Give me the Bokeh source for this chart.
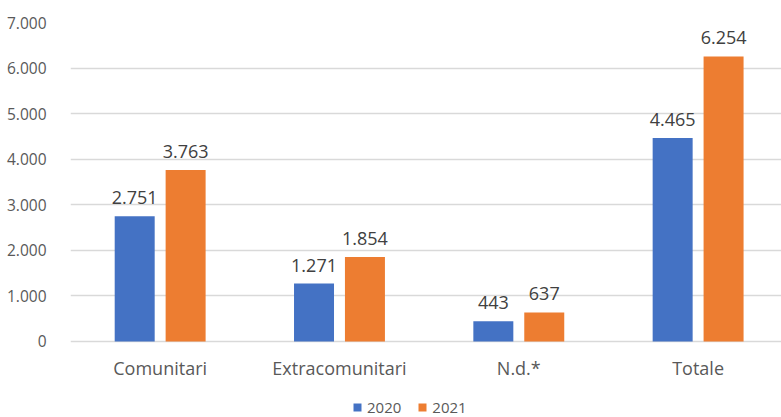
from bokeh.plotting import figure
from bokeh.models import ColumnDataSource, Range1d, FixedTicker, Legend, LegendItem, CustomJSTickFormatter
from bokeh.embed import file_html
from bokeh.resources import INLINE
from bokeh.core.properties import value

categories = ["Comunitari", "Extracomunitari", "N.d.*", "Totale"]
series_names = ["2020", "2021"]
values_2020 = [2751, 1271, 443, 4465]
values_2021 = [3763, 1854, 637, 6254]
y_ticks = [0, 1000, 2000, 3000, 4000, 5000, 6000, 7000]

colors = ["#4472C4", "#ED7D31"]
FONT = "Open Sans"
TXT = "#595959"

def fmt(v):
    return f"{v:,}".replace(",", ".")

W, H = 781, 417
# frame extends to the bottom of the canvas so that category labels and legend live inside it
p = figure(width=W, height=H, output_backend="svg", toolbar_location=None,
           x_range=Range1d(0, 3.965), y_range=Range1d(-1668, 7000),
           x_axis_location=None,
           min_border_left=70, min_border_right=0, min_border_top=22, min_border_bottom=0)
p.outline_line_color = None
p.background_fill_color = "white"
p.border_fill_color = "white"

centers = [i + 0.5 for i in range(len(categories))]
offsets = [-0.142, 0.142]

p.xgrid.grid_line_color = None
p.ygrid.grid_line_color = "#D9D9D9"
p.ygrid.grid_line_width = 1.3
p.ygrid.ticker = FixedTicker(ticks=y_ticks)

renderers = []
for vals, off, col in zip([values_2020, values_2021], offsets, colors):
    src = ColumnDataSource(dict(x=[c + off for c in centers], top=vals,
                                label=[fmt(v) for v in vals]))
    r = p.vbar(x="x", top="top", bottom=0, width=0.223, source=src, fill_color=col, line_color=None)
    renderers.append(r)
    p.text(x="x", y="top", text="label", source=src, text_align="center",
           text_baseline="bottom", y_offset=-12, text_font=value(FONT),
           text_font_size="18px", text_color="#404040")

# category labels
cat_src = ColumnDataSource(dict(x=centers, y=[0] * len(categories), label=categories))
p.text(x="x", y="y", text="label", source=cat_src, text_align="center",
       text_baseline="middle", y_offset=27, text_font=value(FONT),
       text_font_size="18px", text_color=TXT)

p.yaxis.ticker = FixedTicker(ticks=y_ticks)
p.yaxis.formatter = CustomJSTickFormatter(code="return tick.toLocaleString('de-DE');")
p.yaxis.axis_line_color = None
p.yaxis.major_tick_line_color = None
p.yaxis.minor_tick_line_color = None
p.yaxis.major_label_text_font = FONT
p.yaxis.major_label_text_font_size = "15.5px"
p.yaxis.major_label_text_color = TXT
p.yaxis.major_label_standoff = 18

legend = Legend(items=[LegendItem(label=n, renderers=[r]) for n, r in zip(series_names, renderers)],
                orientation="horizontal", location=(282, 0),
                background_fill_alpha=0, border_line_color=None,
                padding=0, margin=0, spacing=16, label_standoff=5,
                glyph_width=10, glyph_height=10,
                label_text_font=FONT, label_text_font_size="15px", label_text_color=TXT)
p.add_layout(legend, "center")

open("out.html", "w").write(file_html(p, INLINE))
